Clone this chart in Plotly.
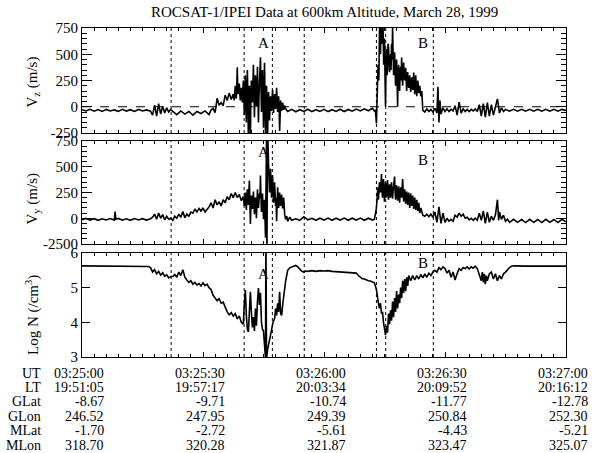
import pandas as pd
import plotly.graph_objects as go

# ---------------- data (seconds after 03:25:00 UT, value) ----------------
vz_samples = [
    (0, -28), (1, -40), (2, -24), (3, -42), (4, -27), (5, -44), (6, -25), (7, -40), (8, -30), (9, -44),
    (10, -24), (11, -41), (12, -28), (13, -45), (14, -26), (15, -40), (16, -30), (17, -42),
    (17.5, -80), (18, 15), (18.5, -90), (19, 30), (19.5, -70), (20, 5), (20.5, -60), (21, -10), (21.5, -50), (22, -25),
    (22.5, -45), (23.5, -75), (24.5, -40), (25.5, -70), (26.5, -45), (27.5, -80), (28.5, -45), (29.5, -65),
    (30.5, -40), (31.5, -75), (32, -30),
    (32.5, -15), (33, -55), (33.5, 80), (34, 15), (34.5, 40), (35, 10), (35.5, 110), (36, 60), (36.5, 130),
    (37, 70), (37.5, 120), (37.75, 60), (38.0, 200), (38.25, 80), (38.5, 375), (38.75, 120), (39.0, 220),
    (39.25, 60), (39.5, 180), (39.75, 40), (40.0, 250), (40.25, -80), (40.5, 300), (40.75, -150), (41.0, 350),
    (41.25, -300), (41.5, 200), (41.75, -320), (42.0, 250), (42.25, 40), (42.5, 400), (42.75, -100), (43.0, 300),
    (43.25, 0), (43.5, 380), (43.75, -150), (44.0, 250), (44.25, 470), (44.5, -50), (44.75, 350), (45.0, -200),
    (45.25, 420), (45.5, -320), (45.75, 200), (46.0, -330), (46.25, 140), (46.5, -130), (46.75, 100), (47.0, -40),
    (47.25, 160), (47.5, -60), (47.75, 120), (48.0, -20), (48.25, 180), (48.5, -50), (48.75, 100), (49.0, -230),
    (49.25, 60), (49.5, -40), (49.75, 40), (50.0, -30), (50.25, 10), (50.5, -20),
    (38.125, 120), (38.375, 200), (38.625, 150), (38.875, 160), (39.125, 130), (39.375, 120), (39.625, 100),
    (39.875, 150), (40.125, 100), (40.375, 150), (40.625, 50), (40.875, 150), (41.125, 100), (41.375, 0),
    (41.625, 50), (41.875, 100), (42.125, 150), (42.375, 200), (42.625, 150), (42.875, 100), (43.125, 200),
    (43.375, 150), (43.625, 100), (43.875, 100), (44.125, 300), (44.375, 200), (44.625, 150), (44.875, 100),
    (45.125, 150), (45.375, 100), (45.625, 0), (45.875, 50), (46.125, 0), (46.375, 50), (46.625, 0),
    (46.875, 50), (47.125, 60), (47.375, 40), (47.625, 40), (47.875, 60), (48.125, 60), (48.375, 60),
    (48.625, 40), (48.875, 0),
    (51, -45), (52, -25), (53, -48), (54, -28), (55, -45), (56, -24), (57, -46), (58, -28), (59, -44), (60, -25),
    (61, -46), (62, -28), (63, -44), (64, -24), (65, -45), (66, -26), (67, -42), (68, -22), (69, -40), (70, -20),
    (71, -38), (72, -15), (72.5, -40),
    (72.75, -30), (73.0, -160), (73.2, 50), (73.4, 400), (73.6, 250), (73.8, 850), (74.0, 500), (74.2, 900),
    (74.4, 600), (74.6, 850), (74.8, 400), (75.0, 650), (75.25, 0), (75.5, 550), (75.75, 350), (76.0, 570),
    (76.25, 330), (76.5, 500), (76.75, 600), (77.0, 750), (77.25, 300), (77.5, 520), (77.75, 200), (78.0, 450),
    (78.25, 0), (78.5, 400), (78.75, 150), (79.0, 380), (79.25, 470), (79.5, 200), (79.75, 420), (80.0, 250),
    (80.25, 370), (80.5, 150), (80.75, 330), (81.0, 180), (81.25, 300), (81.5, 140), (81.75, 280), (82.0, 160),
    (82.25, 325), (82.5, 120), (82.75, 300), (83.0, 100), (83.25, 250), (83.5, 130), (83.75, 200), (84.0, 100),
    (84.25, 150), (84.5, -35),
    (75.125, 300), (75.375, 400), (75.625, 300), (75.875, 600), (76.125, 450), (76.375, 380), (76.625, 350),
    (76.875, 450), (77.125, 550), (77.375, 380), (77.625, 300), (77.875, 350), (78.125, 250), (78.375, 300),
    (78.625, 250), (78.875, 330), (79.125, 250), (79.375, 300), (79.625, 350), (79.875, 300), (80.125, 300),
    (80.375, 250), (80.625, 280), (80.875, 230), (81.125, 260), (81.375, 220), (81.625, 200), (81.875, 230),
    (82.125, 240), (82.375, 200), (82.625, 230), (82.875, 180), (83.125, 180), (83.375, 200), (83.625, 160),
    (83.875, 140),
    (85, -50), (85.5, -20), (86, -45), (86.5, -25), (87, -50), (87.5, -15), (88, -60), (88.25, 190), (88.5, -150),
    (88.75, 60), (89, -70), (89.5, -10), (90, -45), (90.5, -20), (91, -45), (91.5, -25), (92, -40), (92.5, 10),
    (93, -80), (93.5, 45), (94, -60), (94.5, -20), (95, -45), (95.5, -25), (96, -45), (96.5, -25), (97, -40),
    (97.5, -20), (98, -45), (98.5, 20), (99, -90), (99.5, 30), (100, -100), (100.5, 40), (101, -90), (101.5, 20),
    (102, -80), (102.5, 10), (103, 75), (103.5, -60), (104, -10), (104.5, -45),
    (105, -25), (106, -42), (107, -25), (108, -42), (109, -25), (110, -42), (111, -25), (112, -42), (113, -25),
    (114, -42), (115, -25), (116, -42), (117, -25), (118, -42), (119, -25), (120, -35),
]

vy_samples = [
    (0, -15), (1, -2), (2, -18), (3, -4), (4, -20), (5, -5), (6, -17), (7, -3), (8, -18), (8.2, 65), (8.4, -10),
    (9, -2), (10, -18), (11, -5), (12, -20), (13, -3), (14, -16), (15, -4), (16, -18), (17, -5),
    (17.5, 10), (18, 40), (18.5, -10), (19, 50), (19.5, 0), (20, 35), (20.5, -15), (21, 20), (21.5, -10), (22, 0),
    (22.5, -20), (23, 20), (23.5, 0), (24, 40), (24.5, 10), (25, 65), (25.5, 5), (26, 40), (26.5, 20), (27, 60),
    (27.5, 50), (28, 90), (28.5, 60), (29, 95), (29.5, 70), (30, 100), (30.5, 60), (31, 80),
    (31.5, 110), (32, 150), (32.5, 100), (33, 180), (33.5, 130), (34, 160), (34.5, 120), (35, 180), (35.5, 150),
    (36, 210), (36.5, 180), (37, 240), (37.5, 200), (38, 250), (38.5, 200), (39, 230), (39.5, 170), (40, 210),
    (40.25, 120), (40.5, 250), (40.75, 80), (41.0, 280), (41.25, 130), (41.5, 365), (41.75, -55), (42.0, 220),
    (42.25, 90), (42.5, 260), (42.75, 40), (43.0, 200), (43.25, 0), (43.5, 280), (43.75, 100), (44.0, 240),
    (44.25, 415), (44.5, 60), (44.75, 240), (45.0, -10), (45.25, 180), (45.5, -190), (45.75, 800), (45.85, -400),
    (46.0, 900), (46.25, 535), (46.5, 250), (46.75, 480), (47.0, 200), (47.25, 420), (47.5, 150), (47.75, 350),
    (48.0, 120), (48.25, -30), (48.5, 300), (48.75, 100), (49.0, 250), (49.25, 120), (49.5, 230), (49.75, 95),
    (50.0, 200), (50.25, 40), (50.5, -10), (50.75, 20), (51, -30), (51.5, 10), (52, -20),
    (40.375, 180), (40.625, 160), (40.875, 200), (41.125, 200), (41.375, 250), (41.625, 150), (41.875, 120),
    (42.125, 160), (42.375, 180), (42.625, 150), (42.875, 120), (43.125, 100), (43.375, 150), (43.625, 180),
    (43.875, 170), (44.125, 200), (44.375, 200), (44.625, 150), (44.875, 120), (45.125, 80), (46.375, 400),
    (46.625, 350), (46.875, 330), (47.125, 300), (47.375, 280), (47.625, 250), (47.875, 230), (48.125, 200),
    (48.375, 150), (48.625, 200), (48.875, 180), (49.125, 170), (49.375, 180), (49.625, 150), (49.875, 140),
    (53, -5), (54, -20), (55, 15), (56, -15), (57, 0), (58, -20), (59, 0), (60, -18), (61, 2), (62, -20), (63, 0),
    (64, -18), (65, 2), (66, -20), (67, 0), (68, -18), (69, 2), (70, -20), (71, 0), (72, -18),
    (72.5, -10), (73.0, 100), (73.25, 240), (73.5, 180), (73.75, 350), (74.0, 250), (74.25, 430), (74.5, 200),
    (74.75, 380), (75.0, 160), (75.25, 350), (75.5, 200), (75.75, 370), (76.0, 180), (76.25, 330), (76.5, 200),
    (76.75, 350), (77.0, 190), (77.25, 300), (77.5, 405), (77.75, 180), (78.0, 320), (78.25, 170), (78.5, 310),
    (78.75, 150), (79.0, 300), (79.25, 200), (79.5, 380), (79.75, 160), (80.0, 280), (80.25, 140), (80.5, 260),
    (80.75, 130), (81.0, 250), (81.25, 100), (81.5, 240), (81.75, 120), (82.0, 220), (82.25, 90), (82.5, 200),
    (82.75, 80), (83.0, 180), (83.25, 70), (83.5, 150), (83.75, 50), (84.0, 100), (84.5, 30),
    (73.375, 300), (73.625, 280), (73.875, 300), (74.125, 330), (74.375, 280), (74.625, 320), (74.875, 250),
    (75.125, 280), (75.375, 260), (75.625, 300), (75.875, 260), (76.125, 260), (76.375, 250), (76.625, 300),
    (76.875, 250), (77.125, 260), (77.375, 320), (77.625, 260), (77.875, 240), (78.125, 270), (78.375, 230),
    (78.625, 240), (78.875, 230), (79.125, 260), (79.375, 290), (79.625, 250), (79.875, 220), (80.125, 230),
    (80.375, 200), (80.625, 210), (80.875, 190), (81.125, 180), (81.375, 170), (81.625, 180), (81.875, 160),
    (82.125, 150), (82.375, 150), (82.625, 130), (82.875, 130), (83.125, 120), (83.375, 100), (83.625, 90),
    (85, 20), (85.5, 40), (86, 15), (86.5, 40), (87, 10), (87.5, 60), (88, -40), (88.5, 110), (89, -50),
    (89.5, 50), (90, -40), (90.5, 0), (91, -30), (91.5, -10), (92, -30), (92.5, 30), (93, 10), (93.5, 50),
    (94, 20), (94.5, 40), (95, 0), (95.5, 10), (96, -15), (96.5, 0), (97, -20), (97.5, 0), (98, -20), (98.5, 50),
    (99, -20), (99.5, 70), (100, -50), (100.5, 60), (101, -40), (101.5, 20), (102, -20), (102.5, 30), (103, 180),
    (103.3, -20), (103.5, 60), (104, -10), (104.5, 30), (105, -30),
    (105.5, -10), (106, -40), (107, -10), (108, -40), (109, -12), (110, -42), (111, -10), (112, -40), (113, -12),
    (114, -42), (115, -10), (116, -40), (117, -12), (118, -42), (119, -10), (120, -35),
]

logn_samples = [
    (0, 5.63), (5, 5.63), (10, 5.62), (15, 5.62), (16.5, 5.61), (17, 5.58),
    (17.5, 5.45), (18, 5.52), (18.5, 5.40), (19, 5.47), (19.5, 5.36), (20, 5.43), (20.5, 5.33), (21, 5.37),
    (21.5, 5.28), (22, 5.32), (22.5, 5.32), (23, 5.38), (23.5, 5.30), (24, 5.45), (24.5, 5.35), (25, 5.52),
    (25.5, 5.30), (26, 5.22), (26.5, 5.15), (27, 5.20), (27.5, 5.10), (28, 5.15), (28.5, 5.08), (29, 5.12),
    (29.5, 5.05), (30, 5.14), (30.5, 5.06), (31, 5.10), (31.5, 5.00), (32, 4.95), (32.5, 4.78),
    (33, 4.70), (33.5, 4.62), (34, 4.68), (34.5, 4.55), (35, 4.58), (35.5, 4.42), (36, 4.30), (36.5, 4.22),
    (37, 4.28), (37.5, 4.18), (38, 4.25), (38.5, 4.10), (39, 4.18), (39.5, 4.00), (40, 3.95),
    (40.25, 4.55), (40.5, 4.93), (40.75, 4.20), (41.0, 3.80), (41.25, 3.72), (41.5, 4.50), (41.75, 4.88),
    (42.0, 4.30), (42.25, 3.85), (42.5, 4.15), (42.75, 3.75), (43.0, 4.40), (43.25, 3.90), (43.5, 4.60),
    (43.75, 4.99), (44.0, 4.50), (44.25, 4.85), (44.5, 4.00), (44.75, 3.80), (45.0, 3.75), (45.25, 3.30),
    (45.5, 2.95), (45.6, 6.5), (45.75, 2.95), (46.0, 3.20), (46.5, 3.50), (47.0, 3.80), (47.4, 4.02),
    (47.75, 4.10), (48.0, 4.40), (48.25, 4.20), (48.5, 4.55), (48.75, 4.30), (49.0, 4.88), (49.25, 4.25),
    (49.5, 4.20), (49.75, 4.50), (50.0, 4.80), (50.5, 5.20), (51.0, 5.50), (51.5, 5.57), (52, 5.60),
    (52.5, 5.62), (53, 5.64), (53.5, 5.60), (54, 5.52), (54.5, 5.47), (55, 5.45), (55.5, 5.48), (56, 5.47),
    (57, 5.49), (58, 5.47), (59, 5.49), (60, 5.48), (61, 5.49), (62, 5.47), (63, 5.46), (64, 5.47), (65, 5.45),
    (66, 5.45), (67, 5.43), (68, 5.42), (68.5, 5.35), (69, 5.30), (69.5, 5.26), (70, 5.25), (70.5, 5.22),
    (71, 5.20), (71.5, 5.19), (72, 5.17), (72.5, 5.14),
    (73.0, 4.95), (73.25, 4.70), (73.5, 4.55), (73.75, 4.40), (74.0, 4.55), (74.25, 4.25), (74.5, 4.30),
    (74.75, 4.00), (75.0, 3.80), (75.25, 3.63), (75.5, 3.90), (75.75, 3.70), (76.0, 4.25), (76.25, 3.95),
    (76.5, 4.35), (76.75, 4.05), (77.0, 4.60), (77.25, 4.15), (77.5, 4.70), (77.75, 4.30), (78.0, 4.90),
    (78.25, 4.40), (78.5, 4.80), (78.75, 4.55), (79.0, 5.00), (79.25, 4.70), (79.5, 5.20), (79.75, 4.85),
    (80.0, 5.25), (80.25, 4.90), (80.5, 5.30), (80.75, 5.05), (81.0, 5.35), (81.5, 5.20), (82.0, 5.35),
    (82.5, 5.22), (83.0, 5.35), (83.5, 5.25), (84.0, 5.38), (84.5, 5.28), (85.0, 5.40), (85.5, 5.30),
    (86.0, 5.42), (86.5, 5.35), (87.0, 5.45), (87.5, 5.50), (88.0, 5.45), (88.5, 5.58), (89.0, 5.52),
    (89.5, 5.60), (90.0, 5.55), (90.5, 5.42), (91.0, 5.50), (91.5, 5.30), (92.0, 5.45), (92.5, 5.22),
    (93.0, 5.40), (93.5, 5.55), (94.0, 5.50), (94.5, 5.58), (95.0, 5.55), (95.5, 5.60), (96.0, 5.54),
    (96.5, 5.60), (97.0, 5.56), (97.5, 5.62), (98.0, 5.55), (98.5, 5.40), (99.0, 5.20), (99.25, 5.45),
    (99.5, 5.15), (99.75, 5.40), (100.0, 5.10), (100.25, 5.35), (100.5, 5.20), (101.0, 5.40), (101.5, 5.45),
    (102.0, 5.25), (102.5, 5.40), (103.0, 5.20), (103.5, 5.35), (104.0, 5.25), (104.5, 5.40), (105.0, 5.45),
    (105.5, 5.52), (106.0, 5.58), (106.5, 5.62), (107.0, 5.63), (110, 5.62), (115, 5.62), (120, 5.62),
]

event_times = [22.1, 40.2, 47.2, 55.1, 73.0, 75.3, 87.1]
event_labels = [("A", 45.1), ("B", 84.5)]

tick_seconds = [0, 30, 60, 90, 120]
row_names = ["UT", "LT", "GLat", "GLon", "MLat", "MLon"]
row_values = [
    ["03:25:00", "03:25:30", "03:26:00", "03:26:30", "03:27:00"],
    ["19:51:05", "19:57:17", "20:03:34", "20:09:52", "20:16:12"],
    ["-8.67", "-9.71", "-10.74", "-11.77", "-12.78"],
    ["246.52", "247.95", "249.39", "250.84", "252.30"],
    ["-1.70", "-2.72", "-5.61", "-4.43", "-5.21"],
    ["318.70", "320.28", "321.87", "323.47", "325.07"],
]

# ---------------- helpers ----------------
BASE = pd.Timestamp("1999-03-28 03:25:00")


def ts(sec):
    return (BASE + pd.to_timedelta(sec, unit="s")).strftime("%Y-%m-%d %H:%M:%S.%f")


FONT = "Liberation Serif"
W, H = 598, 453
L, R, T, B = 82, 32, 28, 96
PH = H - T - B  # 329
panels_px = [(28, 133), (141, 244), (253, 357)]


def dom(top, bot):
    return [(H - B - bot) / PH, (H - B - top) / PH]


fig = go.Figure()
series = [vz_samples, vy_samples, logn_samples]
for i, s in enumerate(series):
    n = "" if i == 0 else str(i + 1)
    s = sorted(s)
    fig.add_trace(go.Scatter(
        x=[ts(t) for t, _ in s], y=[v for _, v in s], mode="lines",
        line=dict(color="black", width=1.6), xaxis="x" + n, yaxis="y" + n,
        showlegend=False, hoverinfo="skip"))

xcommon = dict(type="date", range=[ts(0), ts(120)], showgrid=False, zeroline=False,
               showline=True, linecolor="black", linewidth=1, mirror="ticks",
               ticks="inside", ticklen=5, tickcolor="black", tick0=ts(0), dtick=30000,
               showticklabels=False,
               minor=dict(ticks="inside", ticklen=3, dtick=3000, tick0=ts(0), tickcolor="black"))
ycommon = dict(showgrid=False, zeroline=False, showline=True, linecolor="black", linewidth=1,
               mirror="ticks", ticks="inside", tickcolor="black",
               tickfont=dict(family=FONT, size=15, color="black"))

layout = dict(width=W, height=H, margin=dict(l=L, r=R, t=T, b=B),
              plot_bgcolor="white", paper_bgcolor="white", showlegend=False,
              font=dict(family=FONT, size=15, color="black"))

yspecs = [
    dict(range=[-250, 750], tickvals=[-250, 0, 250, 500, 750], ticktext=["-250", "0", "250", "500", "750"],
         ticklen=10, minor=dict(ticks="inside", ticklen=5, dtick=50, tickcolor="black")),
    dict(range=[-250, 750], tickvals=[-250, 0, 250, 500, 750], ticktext=["-2500", "0", "250", "500", "750"],
         ticklen=10, minor=dict(ticks="inside", ticklen=5, dtick=50, tickcolor="black")),
    dict(range=[3, 6], tickvals=[3, 4, 5, 6], ticktext=["3", "4", "5", "6"], ticklen=8),
]
for i in range(3):
    n = "" if i == 0 else str(i + 1)
    d = dom(*panels_px[i])
    xa = dict(xcommon, domain=[0, 1], anchor="y" + n)
    if i > 0:
        xa["matches"] = "x"
    ya = dict(ycommon, domain=d, anchor="x" + n, **yspecs[i])
    layout["xaxis" + n] = xa
    layout["yaxis" + n] = ya

shapes = []
for i in range(3):
    n = "" if i == 0 else str(i + 1)
    for et in event_times:
        shapes.append(dict(type="line", xref="x" + n, yref="y" + n + " domain",
                           x0=ts(et), x1=ts(et), y0=0, y1=1,
                           line=dict(color="black", width=1, dash="dot")))
shapes.append(dict(type="line", xref="x domain", yref="y", x0=0, x1=1, y0=0, y1=0,
                   line=dict(color="black", width=1, dash="dash")))
layout["shapes"] = shapes

ann = []
ann.append(dict(text="ROCSAT-1/IPEI Data at 600km Altitude, March 28, 1999", xref="paper", yref="paper",
                x=0.5, y=1, yanchor="bottom", yshift=6, showarrow=False,
                font=dict(family=FONT, size=15, color="black")))
titles = ["V<sub>z</sub> (m/s)", "V<sub>y</sub> (m/s)", "Log N (/cm<sup>3</sup>)"]
title_shift = [-2, -6, -10]
for i in range(3):
    n = "" if i == 0 else str(i + 1)
    ann.append(dict(text=titles[i], xref="paper", yref="y" + n + " domain", x=0, y=0.5,
                    xanchor="center", yanchor="middle", xshift=-50, yshift=title_shift[i],
                    textangle=-90, showarrow=False, font=dict(family=FONT, size=15, color="black")))
label_y = [[0.857, 0.857], [0.893, 0.816], [0.80, 0.904]]
for i in range(3):
    n = "" if i == 0 else str(i + 1)
    for j, (lab, t) in enumerate(event_labels):
        ann.append(dict(text=lab, xref="x" + n, yref="y" + n + " domain", x=ts(t), y=label_y[i][j],
                        xanchor="center", yanchor="middle", showarrow=False,
                        font=dict(family=FONT, size=15, color="black")))
for r, name in enumerate(row_names):
    ypx = 373 + 14.4 * r
    ann.append(dict(text=name, xref="paper", yref="y3 domain", x=0, y=0, xanchor="right",
                    yanchor="middle", xshift=-39, yshift=-(ypx - 357), showarrow=False,
                    font=dict(family=FONT, size=14, color="black")))
    for c, sec in enumerate(tick_seconds):
        ann.append(dict(text=row_values[r][c], xref="x3", yref="y3 domain", x=ts(sec), y=0,
                        xanchor="right", yanchor="middle", xshift=24, yshift=-(ypx - 357),
                        showarrow=False, font=dict(family=FONT, size=14, color="black")))
layout["annotations"] = ann

fig.update_layout(**layout)
fig.write_html("out.html")
